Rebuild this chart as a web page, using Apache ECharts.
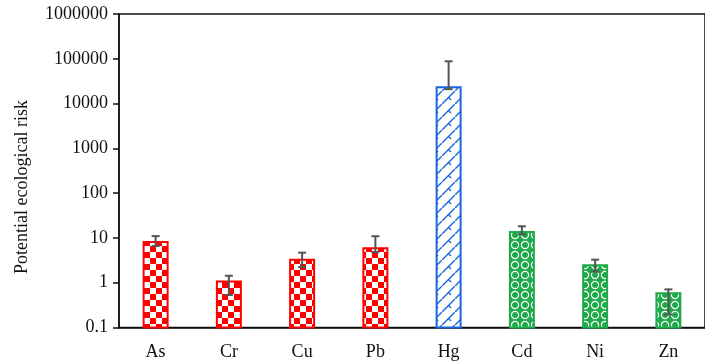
<!DOCTYPE html>
<html>
<head>
<meta charset="utf-8">
<script src="https://cdn.jsdelivr.net/npm/echarts@6/dist/echarts.min.js"></script>
<style>html,body{margin:0;padding:0;background:#fff}#c{width:705px;height:364px}</style>
</head>
<body>
<div id="c"></div>
<script>
var categories = ['As', 'Cr', 'Cu', 'Pb', 'Hg', 'Cd', 'Ni', 'Zn'];
var values = [8.1, 1.07, 3.27, 5.85, 23000, 13.6, 2.44, 0.58];
var errHigh = [11, 1.43, 4.69, 10.9, 88000, 18.2, 3.27, 0.71];
var errLow = [6.6, 0.53, 2.23, 4.84, 21000, 12.0, 1.76, 0.195];
var patternKind = ['check', 'check', 'check', 'check', 'hatch', 'circle', 'circle', 'circle'];
var yTickLabels = ['0.1', '1', '10', '100', '1000', '10000', '100000', '1000000'];
var yAxisName = 'Potential ecological risk';
var axisMin = 0.1, axisMax = 1000000;

var RED = '#ff0000', BLUE = '#1a66e0', GREEN = '#1faa4a';
function makePattern(kind) {
  var c = document.createElement('canvas');
  var ctx;
  if (kind === 'check') {
    c.width = 12; c.height = 12; ctx = c.getContext('2d');
    ctx.fillStyle = '#fff'; ctx.fillRect(0, 0, 12, 12);
    ctx.fillStyle = RED; ctx.fillRect(0, 0, 6, 6); ctx.fillRect(6, 6, 6, 6);
  } else if (kind === 'hatch') {
    c.width = 13; c.height = 13; ctx = c.getContext('2d');
    ctx.fillStyle = '#fff'; ctx.fillRect(0, 0, 13, 13);
    ctx.strokeStyle = BLUE; ctx.lineWidth = 1.4;
    ctx.beginPath(); ctx.moveTo(-2, 15); ctx.lineTo(15, -2); ctx.stroke();
    ctx.beginPath(); ctx.moveTo(6.5, 6.5); ctx.lineTo(9, 9); ctx.stroke();
  } else {
    c.width = 10; c.height = 10; ctx = c.getContext('2d');
    ctx.fillStyle = GREEN; ctx.fillRect(0, 0, 10, 10);
    ctx.strokeStyle = '#fff'; ctx.lineWidth = 1.2;
    ctx.beginPath(); ctx.arc(5, 5, 3.6, 0, Math.PI * 2); ctx.stroke();
  }
  return c;
}
var borderOf = { check: RED, hatch: BLUE, circle: GREEN };
var patterns = {};
['check', 'hatch', 'circle'].forEach(function (k) { patterns[k] = makePattern(k); });

var barData = categories.map(function (c, i) { return [i, values[i]]; });
var errData = categories.map(function (c, i) { return [i, errLow[i], errHigh[i]]; });

var chart = echarts.init(document.getElementById('c'), null, { renderer: 'canvas' });
var serif = 'Liberation Serif, Times New Roman, serif';
chart.setOption({
  animation: false,
  backgroundColor: '#fff',
  grid: { left: 119, right: -11, top: 14, bottom: 36.5, show: true, borderColor: '#111', borderWidth: 1.5, backgroundColor: 'transparent' },
  xAxis: {
    type: 'category', data: categories,
    axisLine: { lineStyle: { color: '#111', width: 1.5 } },
    axisTick: { show: false },
    axisLabel: { color: '#111', fontFamily: serif, fontSize: 18, margin: 16 }
  },
  yAxis: {
    type: 'log', logBase: 10, min: axisMin, max: axisMax, interval: 1,
    axisLine: { show: true, lineStyle: { color: '#111', width: 1.5 } },
    axisTick: { show: true, length: 6, lineStyle: { color: '#111', width: 1.5 } },
    splitLine: { show: false },
    axisLabel: {
      color: '#111', fontFamily: serif, fontSize: 18, margin: 11,
      formatter: function (v) {
        var e = Math.round(Math.log10(v));
        return yTickLabels[e + 1];
      }
    }
  },
  graphic: [{
    type: 'text', x: 22, y: 187, rotation: Math.PI / 2,
    style: { text: yAxisName, font: '18px ' + serif, fill: '#111', textAlign: 'center', textVerticalAlign: 'middle' }
  }],
  series: [{
    type: 'custom',
    data: barData,
    z: 5,
    renderItem: function (params, api) {
      var i = api.value(0);
      var top = api.coord([i, api.value(1)]);
      var base = api.coord([i, axisMin]);
      var w = 24;
      var k = patternKind[params.dataIndex];
      return {
        type: 'rect',
        shape: { x: top[0] - w / 2, y: top[1], width: w, height: base[1] - top[1] },
        style: { fill: { image: patterns[k], repeat: 'repeat' }, stroke: borderOf[k], lineWidth: 2 }
      };
    }
  }, {
    type: 'custom',
    data: errData,
    z: 10,
    renderItem: function (params, api) {
      var x = api.value(0);
      var lo = api.coord([x, api.value(1)]);
      var hi = api.coord([x, api.value(2)]);
      var hw = 4;
      var style = { stroke: '#555', lineWidth: 2 };
      return {
        type: 'group',
        children: [
          { type: 'line', shape: { x1: hi[0], y1: hi[1], x2: lo[0], y2: lo[1] }, style: style },
          { type: 'line', shape: { x1: hi[0] - hw, y1: hi[1], x2: hi[0] + hw, y2: hi[1] }, style: style },
          { type: 'line', shape: { x1: lo[0] - hw, y1: lo[1], x2: lo[0] + hw, y2: lo[1] }, style: style }
        ]
      };
    }
  }]
});
</script>
</body>
</html>
